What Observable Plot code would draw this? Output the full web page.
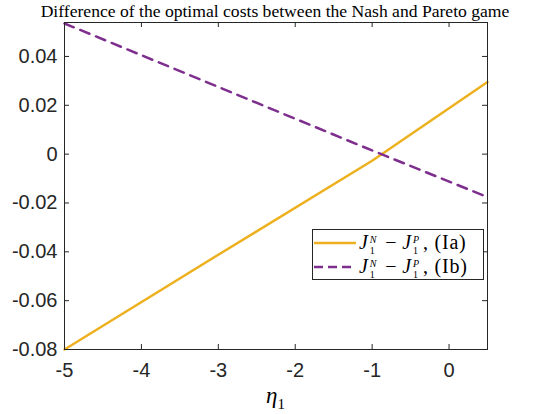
<!DOCTYPE html>
<html>
<head>
<meta charset="utf-8">
<script src="https://cdn.jsdelivr.net/npm/d3@7"></script>
<script src="https://cdn.jsdelivr.net/npm/@observablehq/plot@0.6"></script>
<style>
  body { margin: 0; background: #fff; }
  #fig { position: relative; width: 539px; height: 414px; overflow: hidden; }
  #title { position: absolute; left: 20px; width: 510px; top: 1px; text-align: center; white-space: nowrap;
           font-family: "Liberation Serif", serif; font-size: 17.6px; color: #000; }
  #chart { position: absolute; left: 0; top: 21px; }
  #legend { position: absolute; left: 312px; top: 229px; width: 170px; height: 49px; border: 1px solid #262626;
            background: #fff; font-family: "Liberation Serif", serif; font-size: 20px; color: #000; }
  .row { position: absolute; left: 0; height: 24px; display: flex; align-items: center; white-space: nowrap; }
  .row svg { margin-left: 1px; margin-right: 3px; }
  .m { letter-spacing: 0.8px; }
  .m i { font-style: italic; }
  .op { margin: 0 5px; }
  .ss { display: inline-flex; flex-direction: column; vertical-align: middle; font-size: 10px; line-height: 11px; margin-left: 1px; margin-right: 3px; position: relative; top: 1px; }
  #xlab { position: absolute; left: 64px; width: 423px; top: 383px; text-align: center;
          font-family: "Liberation Serif", serif; font-style: italic; font-size: 23px; }
  #xlab sub { font-style: normal; font-size: 15px; }
</style>
</head>
<body>
<div id="fig">
  <div id="title">Difference of the optimal costs between the Nash and Pareto game</div>
  <div id="chart"></div>
  <div id="xlab">η<sub>1</sub></div>
</div>
<script>
// Data
const eta = [-5, -3, -1, 0.5];
const diffIa = [-0.080, -0.0412, -0.0027, 0.0295];
const diffIb = [0.0535, 0.0275, 0.0015, -0.0176];
const seriesNames = ["Ia", "Ib"];
const seriesColors = ["#EDB120", "#7E2F8E"];
const xTicks = [-5, -4, -3, -2, -1, 0];
const yTicks = [-0.08, -0.06, -0.04, -0.02, 0, 0.02, 0.04];

const rows = [];
eta.forEach((e, i) => {
  rows.push({eta: e, value: diffIa[i], series: "Ia"});
  rows.push({eta: e, value: diffIb[i], series: "Ib"});
});

const W = 539, H = 392, mt = 1, mb = 64, ml = 64, mr = 52;
const ph = H - mt - mb;
const axisColor = "#262626";
const fmtY = d => d === 0 ? "0" : d3.format(".2f")(d).replace("−", "-");
const fmtX = d => String(d).replace("−", "-");

const plot = Plot.plot({
  width: W, height: H,
  marginTop: mt, marginBottom: mb, marginLeft: ml, marginRight: mr,
  style: {fontFamily: "'Liberation Sans', Arial, sans-serif", fontSize: "20px", color: axisColor, background: "#fff", overflow: "visible"},
  x: {domain: [-5, 0.5], label: null},
  y: {domain: [-0.08, 0.0539], label: null},
  color: {domain: seriesNames, range: seriesColors},
  marks: [
    Plot.line(rows.filter(d => d.series === "Ia"), {x: "eta", y: "value", stroke: seriesColors[0], strokeWidth: 2.5}),
    Plot.line(rows.filter(d => d.series === "Ib"), {x: "eta", y: "value", stroke: seriesColors[1], strokeWidth: 2.5, strokeDasharray: "10,7"}),
    Plot.tickX(xTicks, {x: d => d, insetTop: ph - 5, stroke: axisColor}),
    Plot.tickX(xTicks, {x: d => d, insetBottom: ph - 5, stroke: axisColor}),
    Plot.tickY(yTicks, {y: d => d, insetRight: (W - ml - mr) - 5, stroke: axisColor}),
    Plot.tickY(yTicks, {y: d => d, insetLeft: (W - ml - mr) - 5, stroke: axisColor}),
    Plot.axisX(xTicks, {anchor: "bottom", tickSize: 0, tickPadding: 13, tickFormat: fmtX, label: null, fill: axisColor}),
    Plot.axisY(yTicks, {anchor: "left", tickSize: 0, tickPadding: 7, tickFormat: fmtY, label: null, fill: axisColor}),
    Plot.frame({stroke: axisColor, strokeWidth: 1})
  ]
});
document.getElementById("chart").appendChild(plot);

// Legend
const legend = document.createElement("div");
legend.id = "legend";
const legendLabels = [
  {name: "Ia", dash: null},
  {name: "Ib", dash: "9,5"}
];
legendLabels.forEach((l, i) => {
  const row = document.createElement("div");
  row.className = "row";
  row.style.top = (1 + i * 24) + "px";
  const col = seriesColors[i];
  row.innerHTML =
    `<svg width="42" height="10"><line x1="0" y1="5" x2="42" y2="5" stroke="${col}" stroke-width="2.5" ${l.dash ? `stroke-dasharray="${l.dash}"` : ""}/></svg>` +
    `<span class="m"><i>J</i><span class="ss"><i>N</i><span>1</span></span><span class="op">−</span><i>J</i><span class="ss"><i>P</i><span>1</span></span>, (${l.name})</span>`;
  legend.appendChild(row);
});
document.getElementById("fig").appendChild(legend);
</script>
</body>
</html>
